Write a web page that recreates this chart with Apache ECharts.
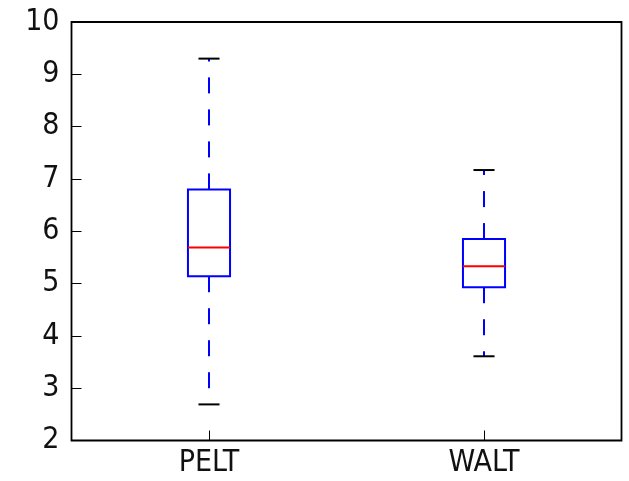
<!DOCTYPE html>
<html>
<head>
<meta charset="utf-8">
<script src="https://cdn.jsdelivr.net/npm/echarts@6/dist/echarts.min.js"></script>
<style>html,body{margin:0;padding:0;background:#fff;}#c{width:629px;height:481px;}</style>
</head>
<body>
<div id="c"></div>
<script>
const categories = ['PELT', 'WALT'];
const lowerWhisker = [2.69, 3.61];
const q1 = [5.14, 4.93];
const median = [5.69, 5.33];
const q3 = [6.80, 5.85];
const upperWhisker = [9.30, 7.17];
const yTicks = [2, 3, 4, 5, 6, 7, 8, 9, 10];

const data = categories.map((c, i) => [i, lowerWhisker[i], q1[i], median[i], q3[i], upperWhisker[i]]);

const font = 'DejaVu Sans Condensed';
const chart = echarts.init(document.getElementById('c'));
chart.setOption({
  animation: false,
  grid: { left: 71.5, right: 7.5, top: 22, bottom: 40.5, show: true, borderColor: '#000', borderWidth: 1.8, backgroundColor: 'transparent' },
  xAxis: {
    type: 'category', data: categories, boundaryGap: true,
    axisLine: { show: false },
    axisTick: { show: true, inside: true, length: 10, alignWithLabel: true, lineStyle: { color: '#000', width: 1 } },
    axisLabel: { color: '#111', fontFamily: font, fontSize: 30, margin: 8 },
    splitLine: { show: false }
  },
  yAxis: {
    type: 'value', min: yTicks[0], max: yTicks[yTicks.length - 1], interval: 1,
    axisLine: { show: false },
    axisTick: { show: true, inside: true, length: 10, lineStyle: { color: '#000', width: 1 } },
    axisLabel: { color: '#111', fontFamily: font, fontSize: 30, margin: 12 },
    splitLine: { show: false }
  },
  series: [{
    type: 'custom',
    data: data,
    encode: { x: 0, y: [1, 2, 3, 4, 5] },
    renderItem: function (params, api) {
      const idx = api.value(0);
      const bw = api.size([1, 0])[0] * 0.153;
      const cw = bw / 2;
      const pLo = api.coord([idx, api.value(1)]);
      const pQ1 = api.coord([idx, api.value(2)]);
      const pMed = api.coord([idx, api.value(3)]);
      const pQ3 = api.coord([idx, api.value(4)]);
      const pHi = api.coord([idx, api.value(5)]);
      const x = pQ1[0];
      const blue = { stroke: '#0000ff', lineWidth: 2, fill: null };
      const dash = { stroke: '#0000ff', lineWidth: 2, lineDash: [16, 16] };
      const cap = { stroke: '#000', lineWidth: 2 };
      return {
        type: 'group',
        children: [
          { type: 'line', shape: { x1: x, y1: pQ3[1], x2: x, y2: pHi[1] }, style: dash },
          { type: 'line', shape: { x1: x, y1: pQ1[1], x2: x, y2: pLo[1] }, style: dash },
          { type: 'line', shape: { x1: x - cw / 2, y1: pHi[1], x2: x + cw / 2, y2: pHi[1] }, style: cap },
          { type: 'line', shape: { x1: x - cw / 2, y1: pLo[1], x2: x + cw / 2, y2: pLo[1] }, style: cap },
          { type: 'rect', shape: { x: x - bw / 2, y: pQ3[1], width: bw, height: pQ1[1] - pQ3[1] }, style: blue },
          { type: 'line', shape: { x1: x - bw / 2, y1: pMed[1], x2: x + bw / 2, y2: pMed[1] }, style: { stroke: '#ff0000', lineWidth: 2 } }
        ]
      };
    }
  }]
});
</script>
</body>
</html>
